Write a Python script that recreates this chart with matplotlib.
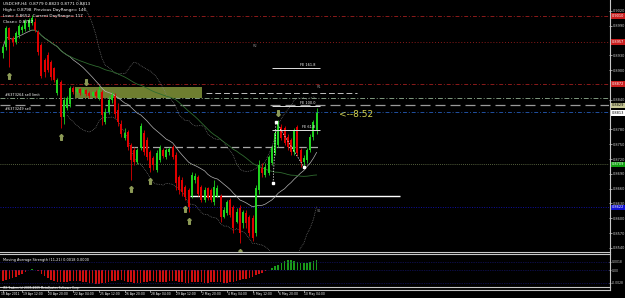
import matplotlib
matplotlib.use("Agg")
import matplotlib.pyplot as plt
from matplotlib.lines import Line2D
from matplotlib.patches import Rectangle
import matplotlib.transforms as mtr
from matplotlib import font_manager
import numpy as np
import pandas as pd

# ---------------- data ----------------
opens = [.8935,.8947,.8986,.8965,.8957,.8971,.8981,.8983,.8987,.8996,
         .8998,.8977,.8951,.8921,.8931,.8916,.8904,.8854,.8876,.8805,
         .8823,.8831,.8864,.8856,.8862,.8854,.8860,.8854,.8847,.8856,
         .8843,.8856,.8795,.8815,.8839,.8847,.8819,.8791,.8762,.8774,
         .8748,.8738,.8714,.8742,.8772,.8758,.8734,.8722,.8697,.8718,
         .8738,.8724,.8734,.8744,.8728,.8683,.8677,.8663,.8657,.8646,
         .8677,.8683,.8663,.8636,.8661,.8657,.8632,.8646,.8646,.8602,
         .8610,.8636,.8622,.8592,.8620,.8590,.8610,.8602,.8600,.8569,
         .8657,.8701,.8687,.8691,.8711,.8732,.8748,.8784,.8782,.8764,
         .8758,.8734,.8784,.8738,.8714,.8718,.8738,.8764,.8779]
closes = [.8947,.8986,.8961,.8957,.8975,.8990,.8987,.9000,.9002,.9006,
          .8981,.8937,.8888,.8896,.8900,.8886,.8880,.8880,.8805,.8839,
          .8843,.8864,.8856,.8862,.8854,.8860,.8852,.8847,.8856,.8847,
          .8860,.8809,.8815,.8839,.8850,.8811,.8795,.8770,.8772,.8744,
          .8718,.8714,.8738,.8787,.8734,.8724,.8701,.8707,.8732,.8742,
          .8726,.8738,.8740,.8724,.8671,.8657,.8653,.8642,.8622,.8687,
          .8685,.8650,.8636,.8657,.8640,.8636,.8663,.8661,.8602,.8616,
          .8632,.8606,.8581,.8612,.8569,.8612,.8590,.8569,.8559,.8661,
          .8707,.8691,.8703,.8724,.8742,.8772,.8793,.8762,.8752,.8744,
          .8734,.8778,.8732,.8714,.8722,.8738,.8764,.8795,.8813]
highs = [.8951,.8990,.8987,.8969,.8979,.8994,.8992,.9004,.9006,.9012,
         .9006,.8981,.8955,.8925,.8937,.8921,.8906,.8884,.8880,.8845,
         .8847,.8868,.8868,.8864,.8864,.8864,.8862,.8858,.8858,.8860,
         .8868,.8860,.8823,.8847,.8856,.8854,.8833,.8799,.8782,.8778,
         .8752,.8744,.8742,.8793,.8778,.8764,.8738,.8726,.8738,.8748,
         .8742,.8742,.8744,.8748,.8734,.8687,.8683,.8667,.8661,.8693,
         .8691,.8687,.8667,.8663,.8663,.8661,.8677,.8667,.8650,.8622,
         .8636,.8640,.8626,.8620,.8626,.8616,.8616,.8606,.8606,.8667,
         .8718,.8711,.8711,.8728,.8748,.8778,.8799,.8791,.8787,.8770,
         .8762,.8782,.8789,.8742,.8728,.8742,.8770,.8799,.8823]
lows = [.8925,.8941,.8906,.8949,.8953,.8965,.8975,.8979,.8981,.8992,
        .8977,.8931,.8884,.8886,.8896,.8880,.8876,.8850,.8782,.8791,
        .8819,.8825,.8852,.8852,.8850,.8850,.8847,.8843,.8845,.8843,
        .8839,.8789,.8791,.8811,.8833,.8803,.8787,.8764,.8758,.8738,
        .8677,.8707,.8709,.8738,.8728,.8718,.8693,.8697,.8693,.8714,
        .8722,.8720,.8728,.8720,.8657,.8650,.8646,.8636,.8612,.8640,
        .8671,.8646,.8632,.8632,.8636,.8632,.8626,.8642,.8592,.8600,
        .8606,.8602,.8569,.8590,.8549,.8581,.8581,.8563,.8553,.8563,
        .8650,.8683,.8683,.8687,.8707,.8728,.8744,.8758,.8748,.8738,
        .8728,.8728,.8726,.8703,.8703,.8711,.8734,.8758,.8771]

mas_values = [-0.0024,-0.0022,-0.0020,-0.0018,-0.0015,-0.0012,-0.0009,-0.0005,0.0001,0.0002,
              0.0001,-0.0003,-0.0008,-0.0013,-0.0018,-0.0022,-0.0025,-0.0026,-0.0027,-0.0027,
              -0.0026,-0.0025,-0.0024,-0.0024,-0.0025,-0.0026,-0.0027,-0.0028,-0.0029,-0.0030,
              -0.0030,-0.0029,-0.0028,-0.0026,-0.0025,-0.0024,-0.0023,-0.0023,-0.0024,-0.0026,
              -0.0027,-0.0028,-0.0029,-0.0028,-0.0027,-0.0026,-0.0025,-0.0025,-0.0026,-0.0027,
              -0.0027,-0.0026,-0.0025,-0.0024,-0.0025,-0.0026,-0.0027,-0.0028,-0.0028,-0.0027,
              -0.0026,-0.0026,-0.0027,-0.0028,-0.0028,-0.0027,-0.0026,-0.0026,-0.0027,-0.0028,
              -0.0028,-0.0027,-0.0026,-0.0024,-0.0022,-0.0020,-0.0019,-0.0017,-0.0015,-0.0012,
              -0.0009,-0.0006,-0.0003,-0.0001,0.0004,0.0008,0.0012,0.0016,0.0019,0.0021,
              0.0021,0.0020,0.0018,0.0016,0.0015,0.0016,0.0018,0.0020,0.0022]

price_ticks = [0.9020, 0.8990, 0.8930, 0.8900, 0.8840, 0.8780, 0.8750, 0.8720,
               0.8690, 0.8660, 0.8630, 0.8600, 0.8570, 0.8540]

pivot_levels = [0.9010, 0.8957, 0.8872, 0.8622]
order_limit = 0.8843
order_sell = 0.8815
hline_level = 0.8829
bid_price = 0.8813
support_dotted = 0.8709
zone_top, zone_bottom = 0.8866, 0.8843
zone_start, zone_end = 22.5, 62.2
dash_level_a = 0.8853
dash_level_b = 0.8744
white_level = 0.8646

fe_idx = [84.4, 85.3, 94.1]
fe_price = [0.8671, 0.8795, 0.8703]
fe_ratios = [0.618, 1.0, 1.618]

arrow_up_bars = [2, 18, 40, 46, 57, 58, 74]
arrow_dn_bars = [26, 86]

date_bars = [0, 6, 14, 22, 30, 38, 46, 54, 62, 70, 78, 86, 94]
date_labels = ['18 Apr 2011', '19 Apr 12:00', '20 Apr 20:00', '22 Apr 04:00', '25 Apr 12:00',
               '26 Apr 20:00', '28 Apr 04:00', '29 Apr 12:00', '2 May 20:00', '4 May 04:00',
               '5 May 12:00', '6 May 20:00', '10 May 04:00']

ind_ticks = [0.0018, 0.0, -0.0028]
ind_labels = ['0.0018', '0.00', '-0.0028']

# ---------------- fonts ----------------
names = {f.name for f in font_manager.fontManager.ttflist}
narrow = 'Liberation Sans Narrow' in names
small_family = ['Liberation Sans Narrow', 'DejaVu Sans'] if narrow else ['DejaVu Sans']
FS = 3.0 if narrow else 2.5
plt.rcParams['font.family'] = small_family

# ---------------- figure ----------------
W, H = 625, 298
fig = plt.figure(figsize=(W/100, H/100), dpi=100, facecolor='black')

def fx(x): return x / W
def fy(y): return 1 - y / H

XPX0, XSTEP = 3.0, 3.2
x_left = (0 - XPX0) / XSTEP
x_right = (609 - XPX0) / XSTEP
p_top = 0.9020 + 11 * 0.0002027
p_bot = 0.9020 - 240 * 0.0002027

ax = fig.add_axes([0, fy(251), fx(609), 251 / H])
ax.set_facecolor('black')
ax.set_xlim(x_left, x_right)
ax.set_ylim(p_bot, p_top)
for s in ax.spines.values():
    s.set_visible(False)
ax.set_xticks([])
ax.yaxis.tick_right()
ax.set_yticks(price_ticks)
ax.set_yticklabels([f"{t:.4f}" for t in price_ticks])
ax.tick_params(axis='y', colors='#d0d0d0', labelsize=FS, length=2, width=0.5, pad=1)

n = len(closes)
idx = np.arange(n)
o = np.array(opens); c = np.array(closes); h = np.array(highs); l = np.array(lows)
up = c >= o
col = np.where(up, '#1fd21f', '#e00000')

ax.add_patch(Rectangle((zone_start, zone_bottom), zone_end - zone_start, zone_top - zone_bottom,
                       facecolor='#6e7e30', edgecolor='none', zorder=1))

piv_colors = ['#8b1a1a', '#8b1a1a', '#8b1a1a', '#1010a0']
piv_styles = [(0, (4, 2, 1, 2)), (0, (1, 2)), (0, (4, 2, 1, 2)), (0, (1, 1.5))]
for lev, colr, ls in zip(pivot_levels, piv_colors, piv_styles):
    ax.axhline(lev, color=colr, lw=0.7, ls=ls, zorder=2)
ax.axhline(order_limit, color='#7f9a7f', lw=0.7, ls=(0, (5, 2, 1, 2)), zorder=2)
ax.axhline(hline_level, color='#9a9a9a', lw=0.9, ls=(0, (8, 4)), zorder=2)
ax.axhline(order_sell, color='#2050a0', lw=0.7, ls=(0, (4, 2, 1, 2)), zorder=2)
ax.axhline(support_dotted, color='#6f7f50', lw=0.6, ls=(0, (1, 1.5)), zorder=2)
ax.hlines(dash_level_a, 63.5, 110.6, color='#c0c0c0', lw=0.7, ls=(0, (6, 3)), zorder=2)
ax.hlines(dash_level_b, 39.7, 99, color='#a8a8a8', lw=0.9, ls=(0, (6, 3)), zorder=2)
ax.hlines(white_level, 58.4, 124, color='white', lw=1.0, zorder=2)

cs = pd.Series(closes)
ma21 = cs.rolling(21, min_periods=1).mean()
sd21 = cs.rolling(21, min_periods=21).std()
ma55 = cs.rolling(55, min_periods=10).mean()
ax.plot(idx, ma21, color='#b4b4b4', lw=0.5, zorder=3)
ax.plot(idx, ma21 + 2 * sd21, color='#8a8a8a', lw=0.5, ls=(0, (1, 1.5)), zorder=3)
ax.plot(idx, ma21 - 2 * sd21, color='#8a8a8a', lw=0.5, ls=(0, (1, 1.5)), zorder=3)
ax.plot(idx, ma55, color='#2f6a2f', lw=0.6, zorder=3)

ax.vlines(idx, l, h, colors=col, lw=0.6, zorder=4)
ax.bar(idx, np.maximum(np.abs(c - o), 0.00008), bottom=np.minimum(o, c), width=0.62,
       color=col, edgecolor='none', zorder=5)

ax.plot(arrow_up_bars, l[arrow_up_bars] - 0.0017, ls='none', marker=r'$\Uparrow$',
        ms=4, color='#8c9a56', zorder=6)
ax.plot(arrow_dn_bars, h[arrow_dn_bars] + 0.0015, ls='none', marker=r'$\Downarrow$',
        ms=4, color='#8c9a56', zorder=6)

ax.plot(fe_idx, fe_price, color='white', lw=0.5, ls=(0, (2, 2)), zorder=6)
ax.plot(fe_idx, fe_price, ls='none', marker='s', ms=1.6, color='white', zorder=7)
rng = fe_price[1] - fe_price[0]
for r in fe_ratios:
    lev = fe_price[2] + rng * r
    ax.hlines(lev, 84, 99, color='#e0e0e0', lw=0.7, zorder=6)
    ax.text(97.5, lev + 0.0002, f"FE {r*100:.1f}", color='white', fontsize=FS,
            ha='right', va='bottom', zorder=7)

ax.text(105, 0.8810, "<--8:52", color='#d2d250', fontsize=6.5, va='center', ha='left',
        family='DejaVu Sans')

ax.text(78, pivot_levels[1] - 0.0003, "R2", color='#888888', fontsize=FS, va='top')
ax.text(98, pivot_levels[2] - 0.0003, "R1", color='#888888', fontsize=FS, va='top')
ax.text(98, pivot_levels[3] - 0.0003, "S1", color='#888888', fontsize=FS, va='top')

ax.text(0.5, order_limit + 0.0002, "#6373264 sell limit", color='white', fontsize=FS, va='bottom')
ax.text(0.5, order_sell + 0.0002, "#6373249 sell", color='white', fontsize=FS, va='bottom')

trans = mtr.blended_transform_factory(ax.transAxes, ax.transData)
boxes = [(pivot_levels[0], '#c81e1e', 'white'), (pivot_levels[1], '#c81e1e', 'white'),
         (pivot_levels[2], '#c81e1e', 'white'), (hline_level, '#c8c896', 'black'),
         (bid_price, 'white', 'black'), (support_dotted, '#10a010', 'white'),
         (pivot_levels[3], '#1010d0', 'white')]
for lev, bg, fg in boxes:
    ax.text(1.004, lev, f"{lev:.4f}", transform=trans, fontsize=FS, color=fg,
            va='center', ha='left', clip_on=False, zorder=10,
            bbox=dict(boxstyle='square,pad=0.2', facecolor=bg, edgecolor='none'))

hdr = ["USDCHF,H4  0.8779 0.8823 0.8771 0.8813",
       "High= 0.8798  Previous DayRange= 146",
       "Low= 0.8652  Current DayRange= 117",
       "Close= 0.8787"]
for k, t in enumerate(hdr):
    fig.text(fx(3), fy(4 + 6 * k), t, color='white', fontsize=FS + 0.5, va='center', ha='left')

# ---------------- indicator panel ----------------
ax2 = fig.add_axes([0, fy(286), fx(609), 30 / H])
ax2.set_facecolor('black')
ax2.set_xlim(x_left, x_right)
ax2.set_ylim(-0.00352, 0.00308)
for s in ax2.spines.values():
    s.set_visible(False)
ax2.set_xticks([])
mv = np.array(mas_values)
ax2.bar(idx, mv, width=0.55, color=np.where(mv >= 0, '#1a9a1a', '#d01010'), edgecolor='none')
for lev in ind_ticks:
    ax2.axhline(lev, color='#1a1a8a', lw=0.5, ls=(0, (1, 1.5)))
ax2.yaxis.tick_right()
ax2.set_yticks(ind_ticks)
ax2.set_yticklabels(ind_labels)
ax2.tick_params(axis='y', colors='#d0d0d0', labelsize=FS - 0.3, length=1.5, width=0.5, pad=0.5)
ax2.text(0.005, 0.93, "Moving Average Strength (11,21) 0.0018 0.0000", transform=ax2.transAxes,
         color='white', fontsize=FS, va='top', ha='left')

# ---------------- frame lines ----------------
lc = '#c8c8c8'
for yy in [251.5, 253.5, 286.5, 289.5]:
    fig.add_artist(Line2D([0, fx(609.5)], [fy(yy), fy(yy)], color=lc, lw=0.8))
fig.add_artist(Line2D([fx(609.5), fx(609.5)], [fy(0), fy(290)], color=lc, lw=0.8))
fig.text(fx(3), fy(288), "IFX Traders (c) 2005-2009 MetaQuotes Software Corp.", color='white',
         fontsize=FS - 0.4, va='center', ha='left')

for b, t in zip(date_bars, date_labels):
    xp = XPX0 + XSTEP * b
    fig.add_artist(Line2D([fx(xp), fx(xp)], [fy(289.5), fy(291.5)], color=lc, lw=0.5))
    fig.text(fx(xp + 0.5 if b else 1), fy(294), t, color='white', fontsize=FS - 0.3,
             va='center', ha='left')

fig.savefig('out.png', dpi=100, facecolor='black')
